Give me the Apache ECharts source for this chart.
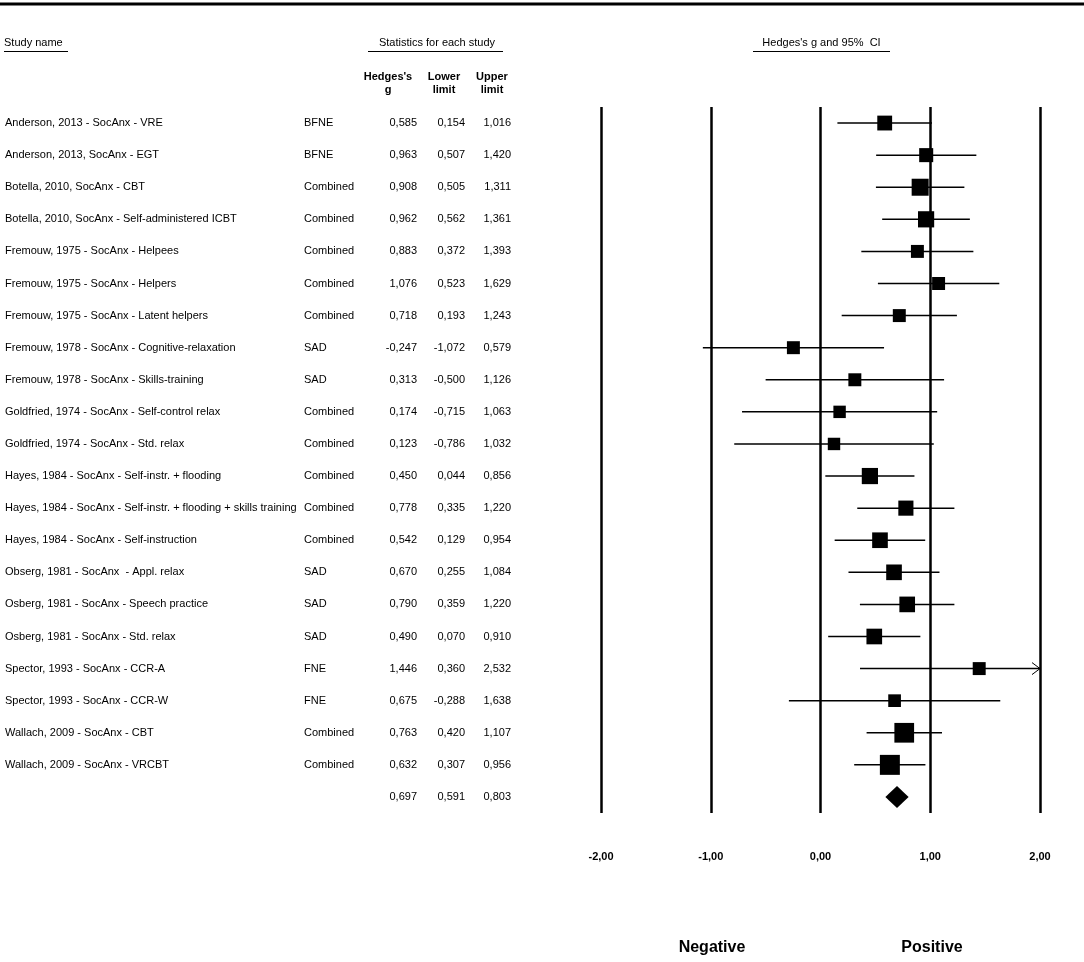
<!DOCTYPE html>
<html>
<head>
<meta charset="utf-8">
<script src="https://cdn.jsdelivr.net/npm/echarts@6/dist/echarts.min.js"></script>
<style>html,body{margin:0;padding:0;background:#fff}#c{width:1084px;height:962px}</style>
</head>
<body>
<div id="c"></div>
<script>
const studies = [
  'Anderson, 2013 - SocAnx - VRE',
  'Anderson, 2013, SocAnx - EGT',
  'Botella, 2010, SocAnx - CBT',
  'Botella, 2010, SocAnx - Self-administered ICBT',
  'Fremouw, 1975 - SocAnx - Helpees',
  'Fremouw, 1975 - SocAnx - Helpers',
  'Fremouw, 1975 - SocAnx - Latent helpers',
  'Fremouw, 1978 - SocAnx - Cognitive-relaxation',
  'Fremouw, 1978 - SocAnx - Skills-training',
  'Goldfried, 1974 - SocAnx - Self-control relax',
  'Goldfried, 1974 - SocAnx - Std. relax',
  'Hayes, 1984 - SocAnx - Self-instr. + flooding',
  'Hayes, 1984 - SocAnx - Self-instr. + flooding + skills training',
  'Hayes, 1984 - SocAnx - Self-instruction',
  'Obserg, 1981 - SocAnx  - Appl. relax',
  'Osberg, 1981 - SocAnx - Speech practice',
  'Osberg, 1981 - SocAnx - Std. relax',
  'Spector, 1993 - SocAnx - CCR-A',
  'Spector, 1993 - SocAnx - CCR-W',
  'Wallach, 2009 - SocAnx - CBT',
  'Wallach, 2009 - SocAnx - VRCBT'
];
const outcomes = ['BFNE','BFNE','Combined','Combined','Combined','Combined','Combined','SAD','SAD','Combined','Combined','Combined','Combined','Combined','SAD','SAD','SAD','FNE','FNE','Combined','Combined'];
const hedgesG = [0.585,0.963,0.908,0.962,0.883,1.076,0.718,-0.247,0.313,0.174,0.123,0.450,0.778,0.542,0.670,0.790,0.490,1.446,0.675,0.763,0.632];
const lowerLimit = [0.154,0.507,0.505,0.562,0.372,0.523,0.193,-1.072,-0.500,-0.715,-0.786,0.044,0.335,0.129,0.255,0.359,0.070,0.360,-0.288,0.420,0.307];
const upperLimit = [1.016,1.420,1.311,1.361,1.393,1.629,1.243,0.579,1.126,1.063,1.032,0.856,1.220,0.954,1.084,1.220,0.910,2.532,1.638,1.107,0.956];
const weights = [5.5,5.2,6.3,6.0,4.8,4.8,4.8,4.8,4.8,4.6,4.6,6.0,5.6,5.8,5.8,5.8,5.8,4.8,4.7,7.3,7.4];
const summary = {g: 0.697, lower: 0.591, upper: 0.803};
const xTicks = [-2, -1, 0, 1, 2];

const FONT = "'Liberation Sans', Arial, sans-serif";
const X_MIN = xTicks[0], X_MAX = xTicks[xTicks.length - 1];
const nRows = studies.length + 1;
const rowIds = Array.from({length: nRows}, (_, i) => String(i));
const fmt3 = v => v.toFixed(3).replace('.', ',');
const allNames = studies.concat(['']);
const allOut = outcomes.concat(['']);
const allG = hedgesG.concat([summary.g]);
const allLo = lowerLimit.concat([summary.lower]);
const allHi = upperLimit.concat([summary.upper]);

function colAxis(offset, align, textFn) {
  return {
    type: 'category', data: rowIds, inverse: true, position: 'left', offset: offset,
    axisLine: {show: false}, axisTick: {show: false}, splitLine: {show: false},
    axisLabel: {interval: 0, margin: 0, align: align, color: '#000', fontSize: 11, fontFamily: FONT,
      formatter: (v, i) => textFn(i)}
  };
}

const chart = echarts.init(document.getElementById('c'), null, {renderer: 'canvas'});
const GL = 601;
chart.setOption({
  animation: false,
  backgroundColor: '#fff',
  grid: {left: GL, right: 44, top: 107, height: 706, containLabel: false},
  xAxis: {
    type: 'value', min: X_MIN, max: X_MAX, interval: 1,
    axisLine: {show: false}, axisTick: {show: false},
    splitLine: {show: true, lineStyle: {color: '#000', width: 2.5}},
    axisLabel: {margin: 38, color: '#000', fontSize: 11, fontWeight: 'bold', fontFamily: FONT,
      formatter: v => v.toFixed(2).replace('.', ',')}
  },
  yAxis: [
    colAxis(GL - 5, 'left', i => allNames[i]),
    colAxis(GL - 304, 'left', i => allOut[i]),
    colAxis(GL - 417, 'right', i => fmt3(allG[i])),
    colAxis(GL - 465, 'right', i => fmt3(allLo[i])),
    colAxis(GL - 511, 'right', i => fmt3(allHi[i]))
  ],
  series: [
    {
      type: 'custom', yAxisIndex: 0, clip: false,
      encode: {x: [0, 1], y: 2},
      data: studies.map((s, i) => [lowerLimit[i], upperLimit[i], i]),
      renderItem: (params, api) => {
        const lo = api.value(0), hi = api.value(1), r = api.value(2);
        const p1 = api.coord([Math.max(lo, X_MIN), r]);
        const p2 = api.coord([Math.min(hi, X_MAX), r]);
        const children = [{type: 'line', shape: {x1: p1[0], y1: p1[1], x2: p2[0], y2: p2[1]},
          style: {stroke: '#000', lineWidth: 1.5}}];
        if (hi > X_MAX) {
          children.push({type: 'polyline', shape: {points: [[p2[0] - 8, p2[1] - 6], [p2[0], p2[1]], [p2[0] - 8, p2[1] + 6]]},
            style: {stroke: '#000', lineWidth: 1, fill: null}});
        }
        return {type: 'group', children: children};
      }
    },
    {
      type: 'scatter', yAxisIndex: 0, symbol: 'rect',
      data: hedgesG.map((g, i) => [g, i]),
      symbolSize: (val, p) => weights[p.dataIndex] * 2.7,
      itemStyle: {color: '#000', opacity: 1}
    },
    {
      type: 'custom', yAxisIndex: 0, clip: false,
      encode: {x: [0, 1, 2], y: 3},
      data: [[summary.lower, summary.g, summary.upper, nRows - 1]],
      renderItem: (params, api) => {
        const r = api.value(3);
        const a = api.coord([api.value(0), r]);
        const b = api.coord([api.value(1), r]);
        const c = api.coord([api.value(2), r]);
        return {type: 'polygon', shape: {points: [[a[0], a[1]], [b[0], b[1] - 11], [c[0], c[1]], [b[0], b[1] + 11]]},
          style: {fill: '#000'}};
      }
    }
  ],
  graphic: [
    {type: 'line', shape: {x1: 0, y1: 4, x2: 1084, y2: 4}, style: {stroke: '#000', lineWidth: 3}},
    {type: 'text', x: 4, y: 43, style: {text: 'Study name', font: '11px ' + FONT, fill: '#000', textVerticalAlign: 'middle'}},
    {type: 'line', shape: {x1: 4, y1: 51.5, x2: 68, y2: 51.5}, style: {stroke: '#000', lineWidth: 1}},
    {type: 'text', x: 437, y: 43, style: {text: 'Statistics for each study', font: '11px ' + FONT, fill: '#000', textAlign: 'center', textVerticalAlign: 'middle'}},
    {type: 'line', shape: {x1: 368, y1: 51.5, x2: 503, y2: 51.5}, style: {stroke: '#000', lineWidth: 1}},
    {type: 'text', x: 821.5, y: 43, style: {text: "Hedges's g and 95%  CI", font: '11px ' + FONT, fill: '#000', textAlign: 'center', textVerticalAlign: 'middle'}},
    {type: 'line', shape: {x1: 753, y1: 51.5, x2: 890, y2: 51.5}, style: {stroke: '#000', lineWidth: 1}},
    {type: 'text', x: 388, y: 77, style: {text: "Hedges's", font: 'bold 11px ' + FONT, fill: '#000', textAlign: 'center', textVerticalAlign: 'middle'}},
    {type: 'text', x: 388, y: 90, style: {text: 'g', font: 'bold 11px ' + FONT, fill: '#000', textAlign: 'center', textVerticalAlign: 'middle'}},
    {type: 'text', x: 444, y: 77, style: {text: 'Lower', font: 'bold 11px ' + FONT, fill: '#000', textAlign: 'center', textVerticalAlign: 'middle'}},
    {type: 'text', x: 444, y: 90, style: {text: 'limit', font: 'bold 11px ' + FONT, fill: '#000', textAlign: 'center', textVerticalAlign: 'middle'}},
    {type: 'text', x: 492, y: 77, style: {text: 'Upper', font: 'bold 11px ' + FONT, fill: '#000', textAlign: 'center', textVerticalAlign: 'middle'}},
    {type: 'text', x: 492, y: 90, style: {text: 'limit', font: 'bold 11px ' + FONT, fill: '#000', textAlign: 'center', textVerticalAlign: 'middle'}},
    {type: 'text', x: 712, y: 948, style: {text: 'Negative', font: 'bold 16px ' + FONT, fill: '#000', textAlign: 'center', textVerticalAlign: 'middle'}},
    {type: 'text', x: 932, y: 948, style: {text: 'Positive', font: 'bold 16px ' + FONT, fill: '#000', textAlign: 'center', textVerticalAlign: 'middle'}}
  ]
});
</script>
</body>
</html>
